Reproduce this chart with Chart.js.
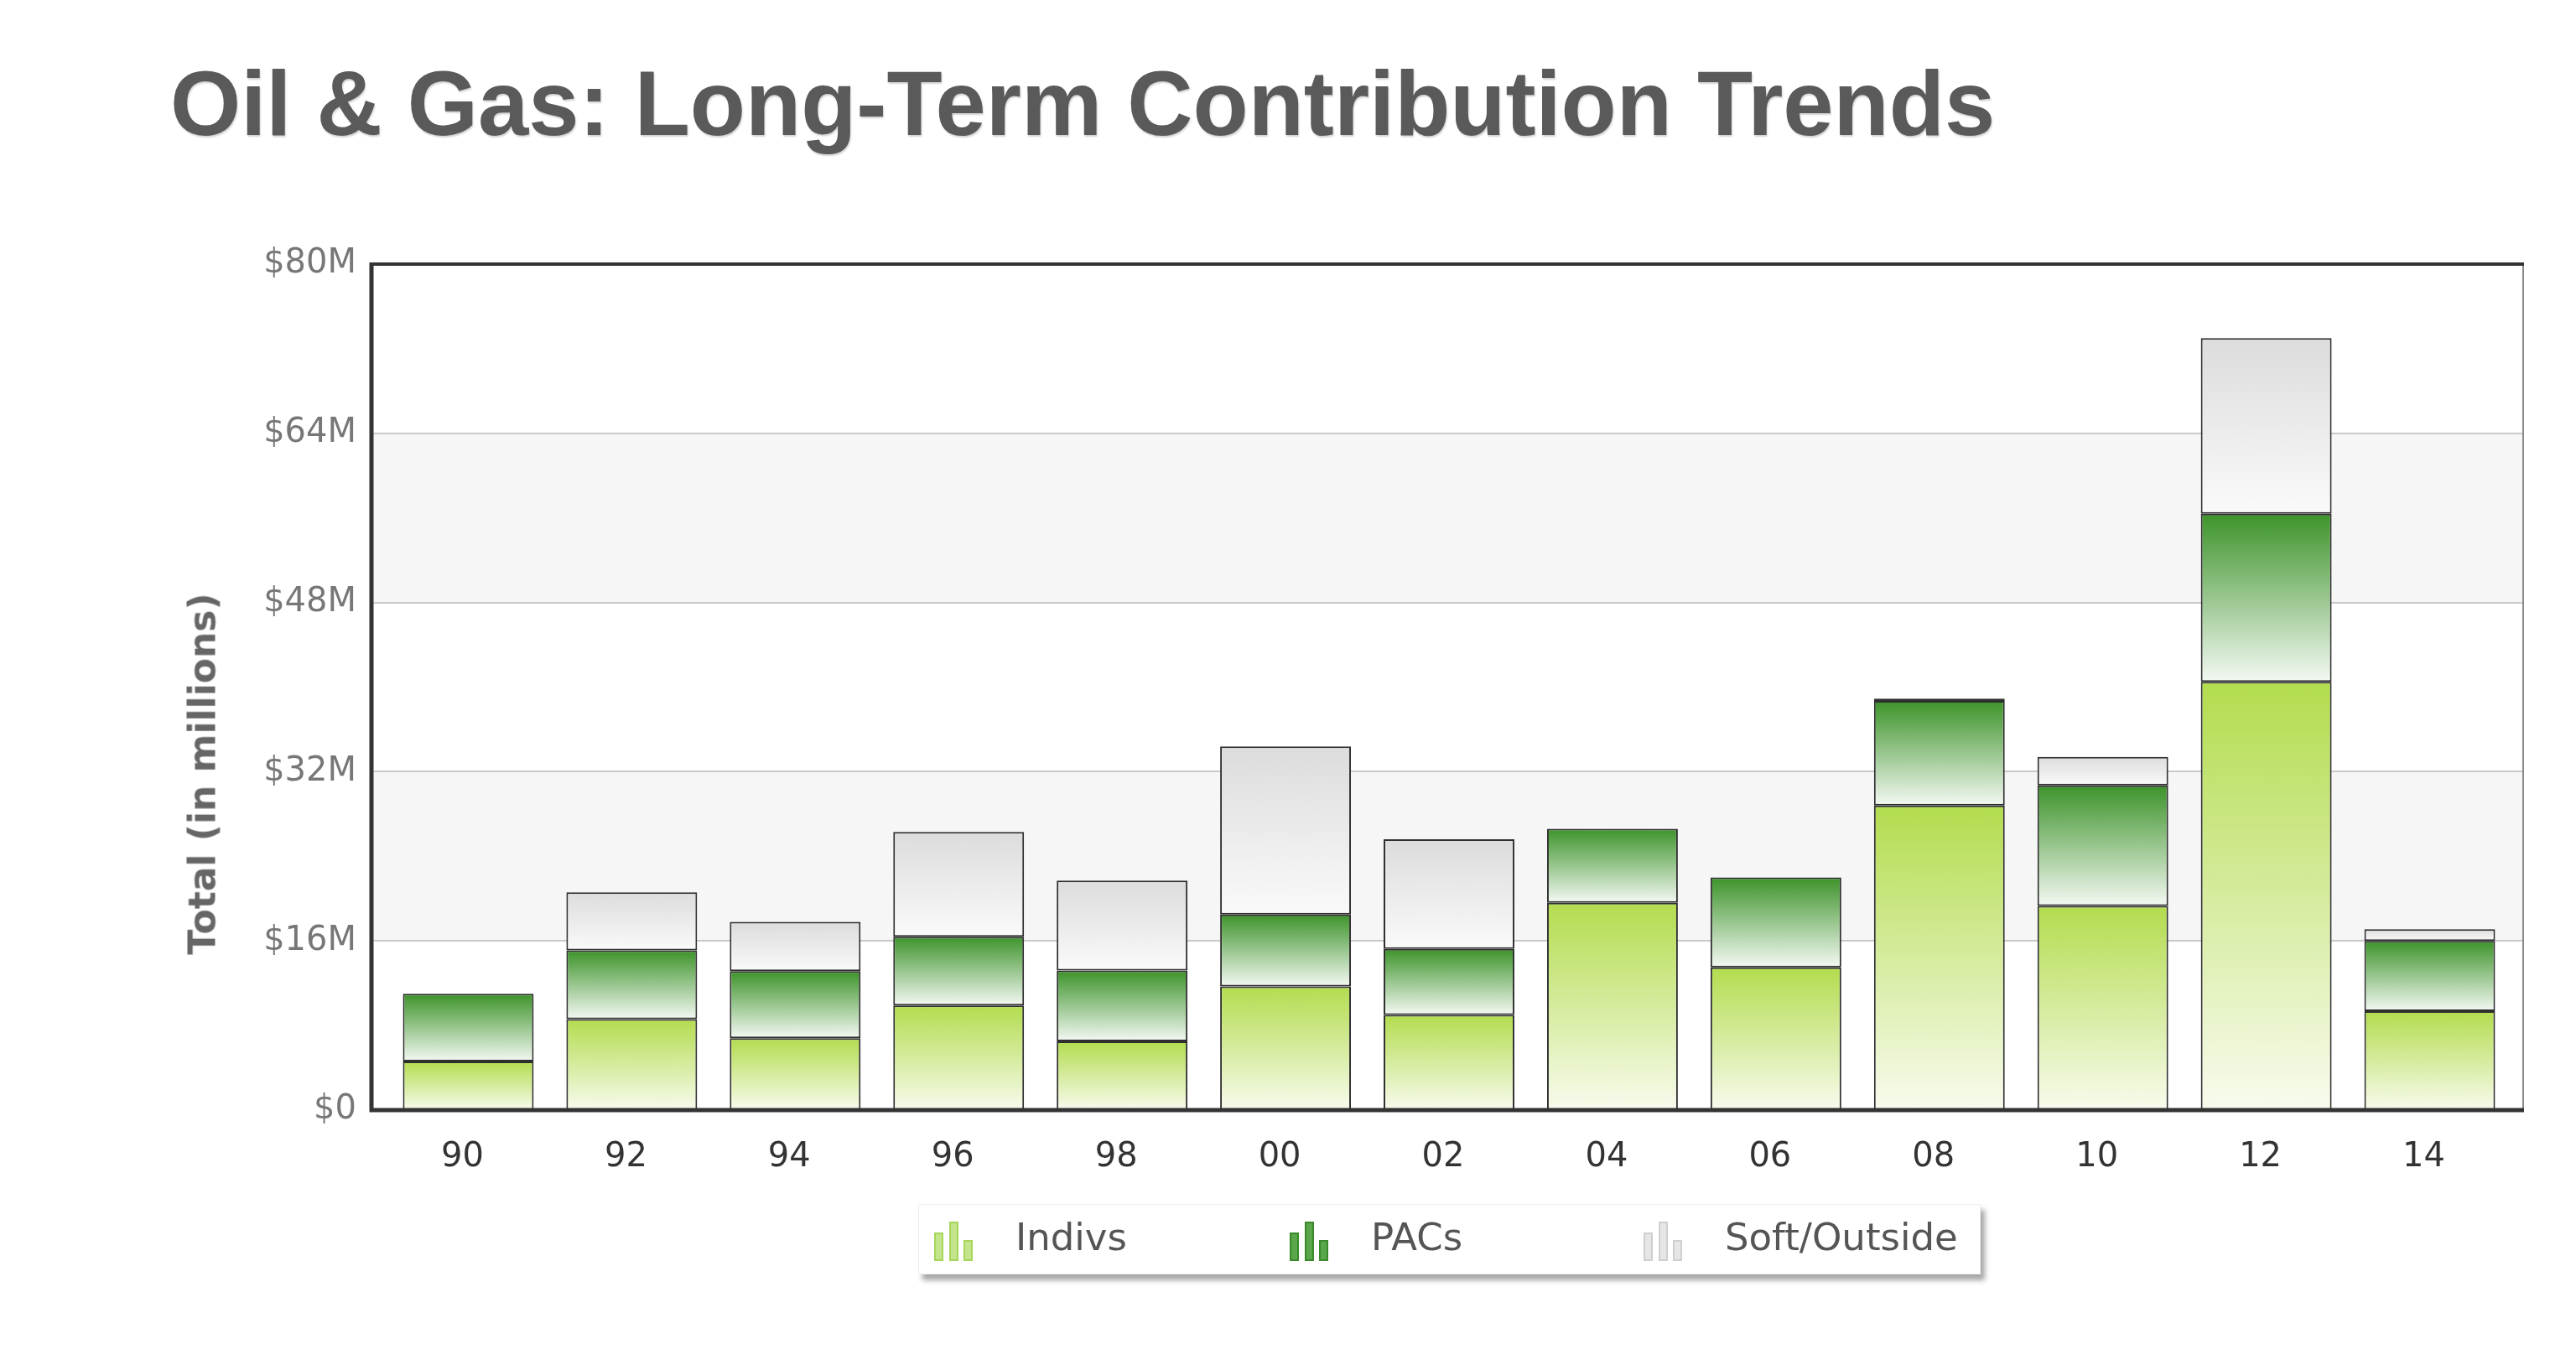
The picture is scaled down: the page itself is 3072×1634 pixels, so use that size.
<!DOCTYPE html>
<html>
<head>
<meta charset="utf-8">
<title>Oil & Gas: Long-Term Contribution Trends</title>
<script src="https://cdn.jsdelivr.net/npm/chart.js"></script>
<style>
  html, body { margin: 0; padding: 0; background: #fff; }
  body { width: 3072px; height: 1634px; position: relative; overflow: hidden; }
  #chart-wrap { position: absolute; left: 0; top: 0; width: 3072px; height: 1634px; }
  #title {
    position: absolute; left: 203px; top: 68px; margin: 0;
    font: bold 110px "Liberation Sans", Arial, sans-serif; line-height: 110px;
    color: #5a5a5a; white-space: nowrap; transform-origin: 0 0;
    text-shadow: 1px 2px 2px rgba(0,0,0,0.18);
  }
  #ytitle {
    position: absolute; left: 241px; top: 923px; white-space: nowrap;
    font: bold 44px "DejaVu Sans", sans-serif; color: #666;
    transform: translate(-50%, -50%) rotate(-90deg);
  }
  #legend {
    position: absolute; left: 1095px; top: 1436px; width: 1267px; height: 84px;
    background: #fff; border: 1px solid #eee; box-sizing: border-box;
    box-shadow: 5px 7px 6px rgba(0,0,0,0.35);
  }
  .item { position: absolute; top: 0; height: 84px; }
  .item .txt {
    position: absolute; top: 16px; white-space: nowrap;
    font: 45px "DejaVu Sans", sans-serif; line-height: 45px; color: #555;
  }
  .item .bar { position: absolute; bottom: 17px; width: 11px; box-sizing: border-box; border: 2px solid; }
</style>
</head>
<body>
  <h1 id="title">Oil &amp; Gas: Long-Term Contribution Trends</h1>
  <div id="chart-wrap"><canvas id="chart" width="3072" height="1634"></canvas></div>
  <div id="ytitle">Total (in millions)</div>
  <div id="legend"></div>

<script>
// Datos (millones de USD)
const years = ['90', '92', '94', '96', '98', '00', '02', '04', '06', '08', '10', '12', '14'];
const indivs = [4.6, 8.6, 6.8, 9.9, 6.5, 11.7, 9.0, 19.6, 13.5, 28.8, 19.3, 40.5, 9.35];
const pacs = [6.4, 6.5, 6.35, 6.5, 6.7, 6.8, 6.25, 7.0, 8.5, 9.9, 11.4, 15.9, 6.65];
const soft = [0, 5.5, 4.65, 9.9, 8.5, 15.9, 10.35, 0, 0, 0.2, 2.7, 16.6, 1.1];
const seriesNames = ['Indivs', 'PACs', 'Soft/Outside'];
const yTickLabels = ['$0', '$16M', '$32M', '$48M', '$64M', '$80M'];

// Colores
const gradColors = [
  ['#b3dc4e', '#f8fbee'],
  ['#3d932a', '#f4f9f3'],
  ['#dcdcdc', '#fafafa']
];
const iconColors = [
  ['#a6d65a', '#c4e58c'],
  ['#3a8a2c', '#5aa64a'],
  ['#cfcfcf', '#e6e6e6']
];
const allSeries = [indivs, pacs, soft];

// gradiente vertical por segmento
function segGradient(ctx) {
  const chart = ctx.chart;
  const di = ctx.datasetIndex;
  if (ctx.type !== 'data' || !chart.chartArea || !chart.scales.y) return gradColors[di][0];
  let base = 0;
  for (let k = 0; k < di; k++) base += allSeries[k][ctx.dataIndex];
  const top = base + allSeries[di][ctx.dataIndex];
  const y = chart.scales.y;
  const y0 = y.getPixelForValue(base);
  const y1 = y.getPixelForValue(top);
  if (Math.abs(y0 - y1) < 1) return gradColors[di][0];
  const g = chart.ctx.createLinearGradient(0, y1, 0, y0);
  g.addColorStop(0, gradColors[di][0]);
  g.addColorStop(1, gradColors[di][1]);
  return g;
}

// Marco, bandas y rejilla
const FRAME_OUT = 18;
const framePlugin = {
  id: 'frame',
  beforeDatasetsDraw(chart) {
    const { ctx, chartArea: a, scales: { y } } = chart;
    const l = a.left - FRAME_OUT, r = a.right + 14;
    ctx.save();
    const vals = y.ticks.map(t => t.value);
    for (let i = 0; i < vals.length - 1; i++) {
      if (i % 2 === 1) {
        const yb = y.getPixelForValue(vals[i]);
        const yt = y.getPixelForValue(vals[i + 1]);
        ctx.fillStyle = '#f6f6f6';
        ctx.fillRect(l, yt, r - l, yb - yt);
      }
    }
    ctx.strokeStyle = '#c9c9c9';
    ctx.lineWidth = 2;
    vals.forEach(v => {
      if (v === 0 || v === y.max) return;
      const py = Math.round(y.getPixelForValue(v));
      ctx.beginPath();
      ctx.moveTo(l, py);
      ctx.lineTo(r, py);
      ctx.stroke();
    });
    ctx.restore();
  },
  afterDatasetsDraw(chart) {
    const { ctx, chartArea: a } = chart;
    const l = a.left - FRAME_OUT, r = a.right + 14;
    ctx.save();
    ctx.strokeStyle = '#8a8a8a';
    ctx.lineWidth = 2;
    ctx.beginPath();
    ctx.moveTo(r, a.top);
    ctx.lineTo(r, a.bottom);
    ctx.stroke();
    ctx.strokeStyle = '#333';
    ctx.lineWidth = 4;
    ctx.beginPath();
    ctx.moveTo(r + 1, a.top);
    ctx.lineTo(l, a.top);
    ctx.stroke();
    ctx.lineWidth = 5;
    ctx.beginPath();
    ctx.moveTo(l, a.top - 2);
    ctx.lineTo(l, a.bottom);
    ctx.lineTo(r + 1, a.bottom);
    ctx.stroke();
    ctx.restore();
  }
};

const datasets = allSeries.map((vals, i) => ({
  label: seriesNames[i],
  data: vals,
  backgroundColor: segGradient,
  borderColor: '#2e2e2e',
  borderWidth: 2,
  borderSkipped: false,
  barPercentage: 0.8,
  categoryPercentage: 1.0
}));

const chart = new Chart(document.getElementById('chart'), {
  type: 'bar',
  data: { labels: years, datasets },
  options: {
    responsive: false,
    animation: false,
    events: [],
    layout: { padding: { left: 100, right: 77, top: 315, bottom: 210 } },
    plugins: { legend: { display: false }, tooltip: { enabled: false } },
    scales: {
      x: {
        stacked: true,
        grid: { display: false, drawTicks: false },
        border: { display: false },
        ticks: { color: '#333', padding: 33, labelOffset: -7, font: { family: 'DejaVu Sans', size: 40 } },
        afterFit(s) { s.height = 100; }
      },
      y: {
        stacked: true,
        min: 0, max: 80,
        grid: { display: false, drawTicks: false },
        border: { display: false },
        ticks: {
          stepSize: 16,
          color: '#777',
          padding: 36,
          font: { family: 'DejaVu Sans', size: 40 },
          callback: (v, i) => yTickLabels[i]
        },
        afterFit(s) { s.width = 361; }
      }
    }
  },
  plugins: [framePlugin]
});

// Leyenda
const legend = document.getElementById('legend');
const itemX = [18, 442, 864];
const barSpec = [[0, 34], [18, 47], [35, 25]];
seriesNames.forEach((name, i) => {
  const it = document.createElement('div');
  it.className = 'item';
  it.style.left = itemX[i] + 'px';
  barSpec.forEach(([bx, bh]) => {
    const b = document.createElement('div');
    b.className = 'bar';
    b.style.left = bx + 'px';
    b.style.height = bh + 'px';
    b.style.borderColor = iconColors[i][0];
    b.style.background = iconColors[i][1];
    it.appendChild(b);
  });
  const t = document.createElement('div');
  t.className = 'txt';
  t.style.left = '97px';
  t.textContent = name;
  it.appendChild(t);
  legend.appendChild(it);
});

// Ajuste del ancho del título
const title = document.getElementById('title');
title.style.display = 'inline-block';
title.style.transform = 'scaleX(' + (2176 / title.offsetWidth) + ')';
</script>
</body>
</html>
